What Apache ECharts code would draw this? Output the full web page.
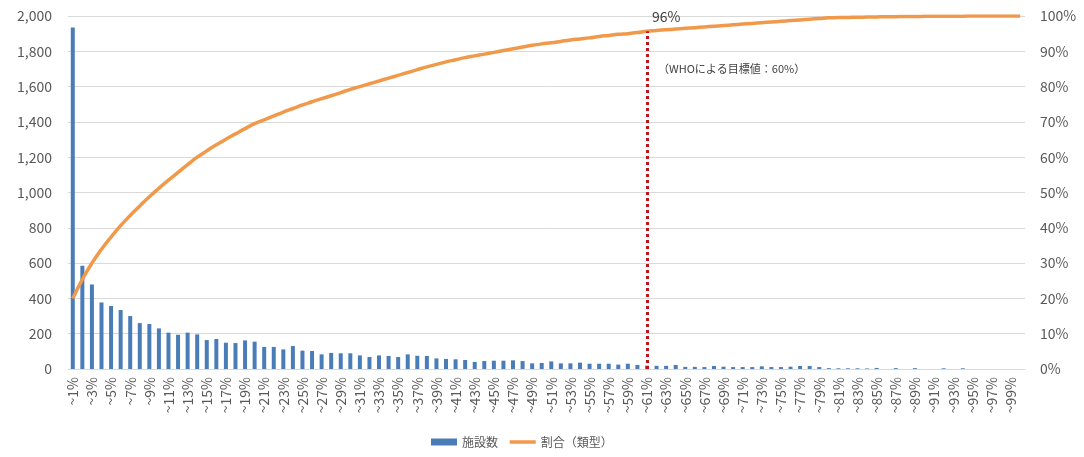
<!DOCTYPE html>
<html><head><meta charset="utf-8">
<script src="https://cdn.jsdelivr.net/npm/echarts@6/dist/echarts.min.js"></script>
<style>html,body{margin:0;padding:0;background:#fff}#c{width:1084px;height:457px}</style>
</head><body><div id="c"></div>
<script>
const categories = ['~1%','~2%','~3%','~4%','~5%','~6%','~7%','~8%','~9%','~10%',
'~11%','~12%','~13%','~14%','~15%','~16%','~17%','~18%','~19%','~20%',
'~21%','~22%','~23%','~24%','~25%','~26%','~27%','~28%','~29%','~30%',
'~31%','~32%','~33%','~34%','~35%','~36%','~37%','~38%','~39%','~40%',
'~41%','~42%','~43%','~44%','~45%','~46%','~47%','~48%','~49%','~50%',
'~51%','~52%','~53%','~54%','~55%','~56%','~57%','~58%','~59%','~60%',
'~61%','~62%','~63%','~64%','~65%','~66%','~67%','~68%','~69%','~70%',
'~71%','~72%','~73%','~74%','~75%','~76%','~77%','~78%','~79%','~80%',
'~81%','~82%','~83%','~84%','~85%','~86%','~87%','~88%','~89%','~90%',
'~91%','~92%','~93%','~94%','~95%','~96%','~97%','~98%','~99%','~100%'];

const facilityCounts = [1935,585,479,377,357,334,300,260,255,230,
206,194,206,196,164,170,149,147,162,155,
125,125,111,130,104,102,83,91,89,89,
77,68,77,74,68,83,75,74,60,57,
55,51,40,45,47,47,49,45,32,34,
43,32,32,36,30,30,30,25,30,23,
19,18,18,23,12,12,11,17,13,11,
11,11,15,11,11,13,17,17,11,5,
4,4,4,3,6,0,5,0,5,0,
0,4,0,4,0,0,0,0,0,0];

const cumulativeRatio = [20.0,25.4,30.0,33.9,37.4,40.6,43.5,46.2,48.8,51.2,
53.5,55.7,57.9,60.0,61.8,63.5,65.1,66.6,68.1,69.5,
70.6,71.7,72.8,73.8,74.8,75.7,76.6,77.4,78.3,79.2,
80.0,80.8,81.6,82.4,83.2,84.0,84.8,85.6,86.3,87.0,
87.6,88.2,88.7,89.2,89.7,90.2,90.7,91.2,91.7,92.1,
92.4,92.8,93.2,93.5,93.8,94.2,94.5,94.8,95.0,95.3,
95.7,95.9,96.1,96.3,96.5,96.7,96.9,97.1,97.3,97.5,
97.7,97.9,98.1,98.3,98.5,98.7,98.9,99.1,99.3,99.5,
99.55,99.6,99.65,99.7,99.75,99.8,99.8,99.85,99.85,99.9,
99.9,99.9,99.95,99.95,100,100,100,100,100,100];

const leftTicks = {min:0, max:2000, interval:200};
const rightTicks = {min:0, max:100, interval:10};
const markerIndex = 60;
const markerLabel = '96%';
const noteText = '（WHOによる目標値：60%）';
const seriesNames = ['施設数','割合（類型）'];

const FONT = '"Noto Sans CJK JP", "Noto Sans", sans-serif';
const chart = echarts.init(document.getElementById('c'), null, {renderer:'canvas'});
chart.setOption({
  animation:false,
  textStyle:{fontFamily:FONT},
  grid:{left:68, right:59, top:16, bottom:88},
  legend:{
    left:426, top:431, itemWidth:26, itemHeight:7, itemGap:10,
    textStyle:{fontSize:12, color:'#595959', fontFamily:FONT},
    data:[{name:seriesNames[0], icon:'rect'},
          {name:seriesNames[1], itemStyle:{opacity:0}, lineStyle:{width:3.5, color:'#f0994a'}}]
  },
  xAxis:{
    type:'category', data:categories,
    axisLine:{show:true, lineStyle:{color:'#d9d9d9'}},
    axisTick:{show:false},
    axisLabel:{rotate:90, interval:1, fontSize:14, color:'#595959', margin:8, fontFamily:FONT}
  },
  yAxis:[
    {type:'value', min:leftTicks.min, max:leftTicks.max, interval:leftTicks.interval,
     axisLine:{show:false}, axisTick:{show:false},
     splitLine:{lineStyle:{color:'#d9d9d9', width:1}},
     axisLabel:{fontSize:14, color:'#595959', margin:16, fontFamily:FONT,
       formatter:v=>v.toLocaleString('en-US')}},
    {type:'value', min:rightTicks.min, max:rightTicks.max, interval:rightTicks.interval,
     axisLine:{show:false}, axisTick:{show:false}, splitLine:{show:false},
     axisLabel:{fontSize:14, color:'#595959', margin:15, fontFamily:FONT, formatter:'{value}%'}}
  ],
  series:[
    {name:seriesNames[0], type:'bar', data:facilityCounts, barWidth:4,
     itemStyle:{color:'#4a7db8'}},
    {name:seriesNames[1], type:'line', yAxisIndex:1, data:cumulativeRatio,
     smooth:true, showSymbol:false, symbol:'none',
     lineStyle:{color:'#f0994a', width:3.5}, itemStyle:{color:'#f0994a'},
     markLine:{silent:true, symbol:'none', label:{show:false},
       lineStyle:{color:'#c0141c', type:[3,3], width:3},
       data:[[{coord:[markerIndex,0]},{coord:[markerIndex,cumulativeRatio[markerIndex]]}]]}
    }
  ]
});
const markerTop = chart.convertToPixel({xAxisIndex:0, yAxisIndex:1},[markerIndex, cumulativeRatio[markerIndex]]);
chart.setOption({graphic:[
  {type:'text', left:markerTop[0]+5, top:markerTop[1]-21, style:{text:markerLabel, fontSize:14, fill:'#404040', fontFamily:FONT}},
  {type:'text', left:markerTop[0]+11, top:markerTop[1]+32, style:{text:noteText, fontSize:11, fill:'#404040', fontFamily:FONT}}
]});
</script></body></html>
